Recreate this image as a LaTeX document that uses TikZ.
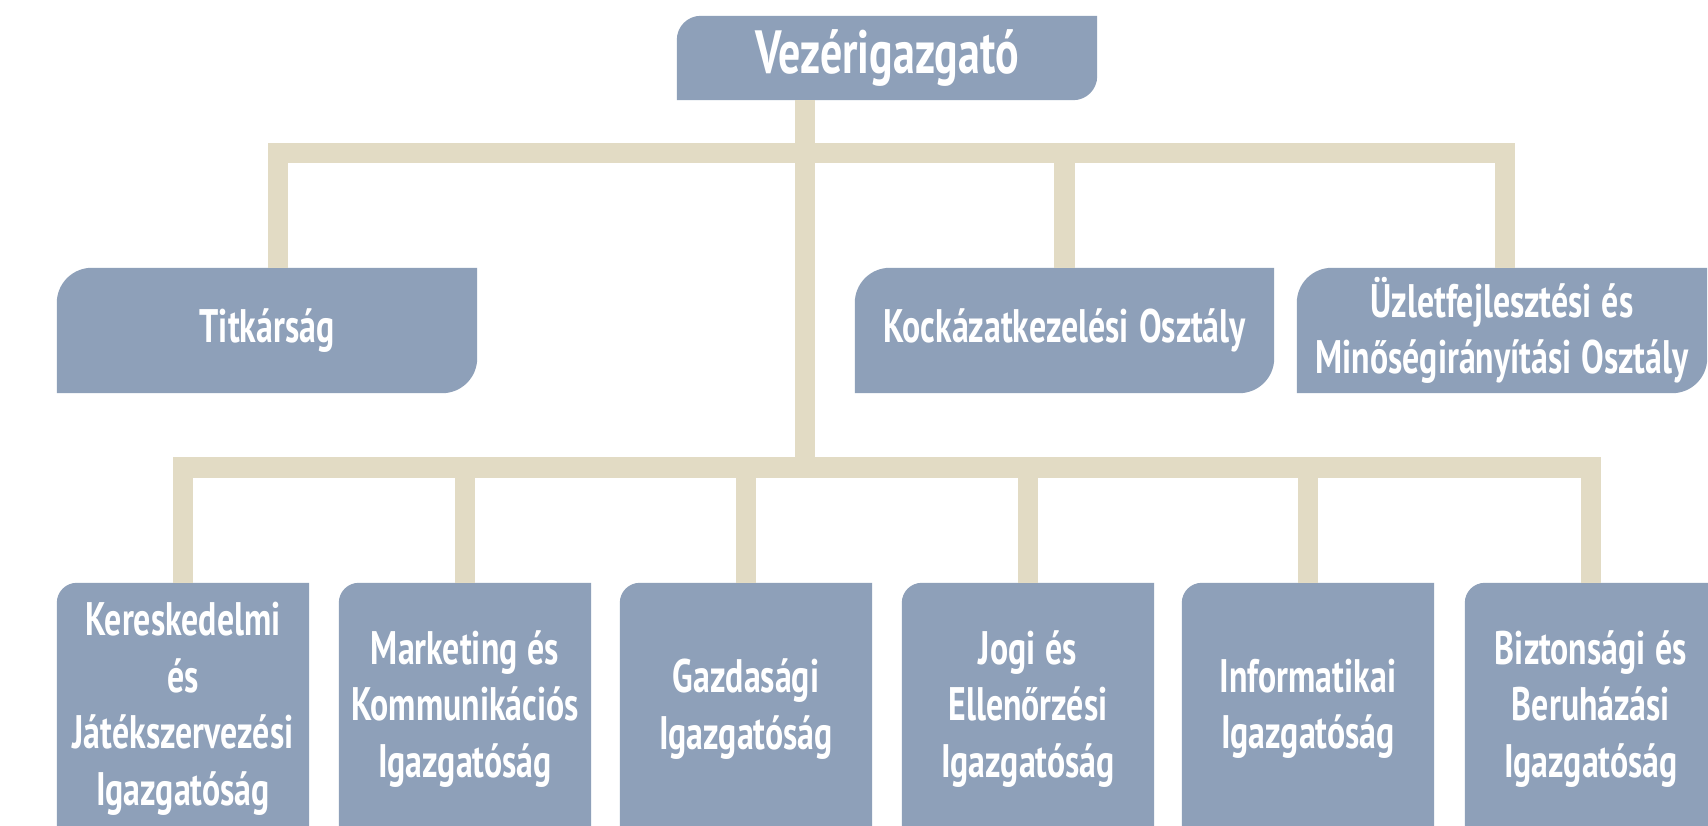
\documentclass[tikz,border=0pt]{standalone}
\usepackage{fontspec}
\setmainfont{PT Sans}[FakeStretch=0.72]
\usepackage{tikz}
\usetikzlibrary{backgrounds}

\definecolor{boxblue}{RGB}{142,160,185}
\definecolor{linkbeige}{RGB}{226,219,196}

\newcommand{\boxfont}{\bfseries\fontsize{47}{56.5}\selectfont}
\newcommand{\topfont}{\bfseries\fontsize{61}{63}\selectfont}
% box with rounded top-left and bottom-right corners
\newcommand{\leafshape}[2]{%
  \fill[boxblue] (#1.south west) -- ([yshift=-#2]#1.north west)
    arc[start angle=180, end angle=90, radius=#2] -- (#1.north east)
    -- ([yshift=#2]#1.south east) arc[start angle=0, end angle=-90, radius=#2] -- cycle;}
% box cut off by the lower edge, only top-left rounded
\newcommand{\tabshape}[2]{%
  \fill[boxblue] ([yshift=-40pt]#1.south west) -- ([yshift=-#2]#1.north west)
    arc[start angle=180, end angle=90, radius=#2] -- (#1.north east)
    -- ([yshift=-40pt]#1.south east) -- cycle;}

\begin{document}
\begin{tikzpicture}[x=1pt, y=-1pt,
  box/.style={text=white, font=\boxfont, align=flush center, inner sep=0pt,
    execute at begin node={\spaceskip=10pt\relax}},
  link/.style={draw=linkbeige, line width=20.5pt, line join=miter}]
	\useasboundingbox (0,0) rectangle (1708,825);
	\clip (0,0) rectangle (1708,825);
	% top
	\node[box, font=\topfont, text width=420pt, minimum height=84pt] (ceo) at (887,58) {Vezérigazgató};
	% staff
	\node[box, text width=420pt, minimum height=125pt] (titk) at (267,330.5) {Titkárság};
	\node[box, text width=419pt, minimum height=125pt] (kock) at (1064.5,330.5) {Kockázatkezelési Osztály};
	\node[box, text width=410pt, minimum height=125pt] (uzlet) at (1502,330.5) {Üzletfejlesztési és\\Minőségirányítási Osztály};
	% directorates
	\node[box, text width=252pt, minimum height=252pt] (ker) at (183,709) {Kereskedelmi\\és\\Játékszervezési\\Igazgatóság};
	\node[box, text width=252pt, minimum height=252pt] (mark) at (465,709) {Marketing és\\Kommunikációs\\Igazgatóság};
	\node[box, text width=252pt, minimum height=252pt] (gazd) at (746,709) {Gazdasági\\Igazgatóság};
	\node[box, text width=252pt, minimum height=252pt] (jogi) at (1028,709) {Jogi és\\Ellenőrzési\\Igazgatóság};
	\node[box, text width=252pt, minimum height=252pt] (info) at (1308,709) {Informatikai\\Igazgatóság};
	\node[box, text width=252pt, minimum height=252pt] (biz) at (1591,709) {Biztonsági és\\Beruházási\\Igazgatóság};

	\coordinate (hubtop) at (805,153);
	\coordinate (hubbot) at (805,467.5);
	\draw[link] (ceo.south -| hubtop) -- (hubbot);
	\draw[link] ([xshift=11pt]titk.north) |- (hubtop) -| ([xshift=3pt]uzlet.north);
	\draw[link] (kock.north) -- (kock.north |- hubtop);
	\draw[link] (ker.north) |- (hubbot) -| (biz.north);
	\foreach \n in {mark,gazd,jogi,info}
	  \draw[link] (\n.north) -- (\n.north |- hubbot);

	\begin{scope}[on background layer]
	  \clip (0,0) rectangle (1708,825);
	  \fill[white] (0,0) rectangle (1708,825);
	  \leafshape{ceo}{24pt}
	  \foreach \n in {titk,kock,uzlet} {\leafshape{\n}{35pt}}
	  \foreach \n in {ker,mark,gazd,jogi,info,biz} {\tabshape{\n}{20pt}}
	\end{scope}
\end{tikzpicture}
\end{document}
